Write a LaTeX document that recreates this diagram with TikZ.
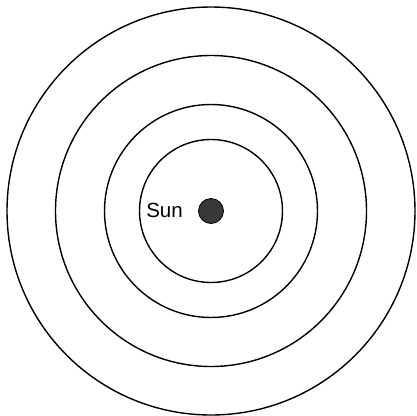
\documentclass[tikz,border=0pt]{standalone}
\usepackage{fontspec}
\setmainfont{Liberation Sans}
\begin{document}
\begin{tikzpicture}[x=1pt,y=-1pt,
  orbit/.style={draw=black,line width=1.4pt},
  sundot/.style={circle,draw=black,line width=0.8pt,fill=black!78,minimum size=25pt,inner sep=0pt},
  lbl/.style={font=\fontsize{20.5}{24}\selectfont,inner sep=0pt}]
\useasboundingbox (0,0) rectangle (416,416);
\coordinate (c) at (211,211);
\draw[orbit] (c) circle[radius=204];
\draw[orbit] (c) circle[radius=155.5];
\draw[orbit] (c) circle[radius=106.5];
\draw[orbit] (c) circle[radius=71.5];
\node[sundot] (sun) at (c) {};
\node[lbl,anchor=east] (sunlabel) at (183,210) {Sun};
\end{tikzpicture}
\end{document}
